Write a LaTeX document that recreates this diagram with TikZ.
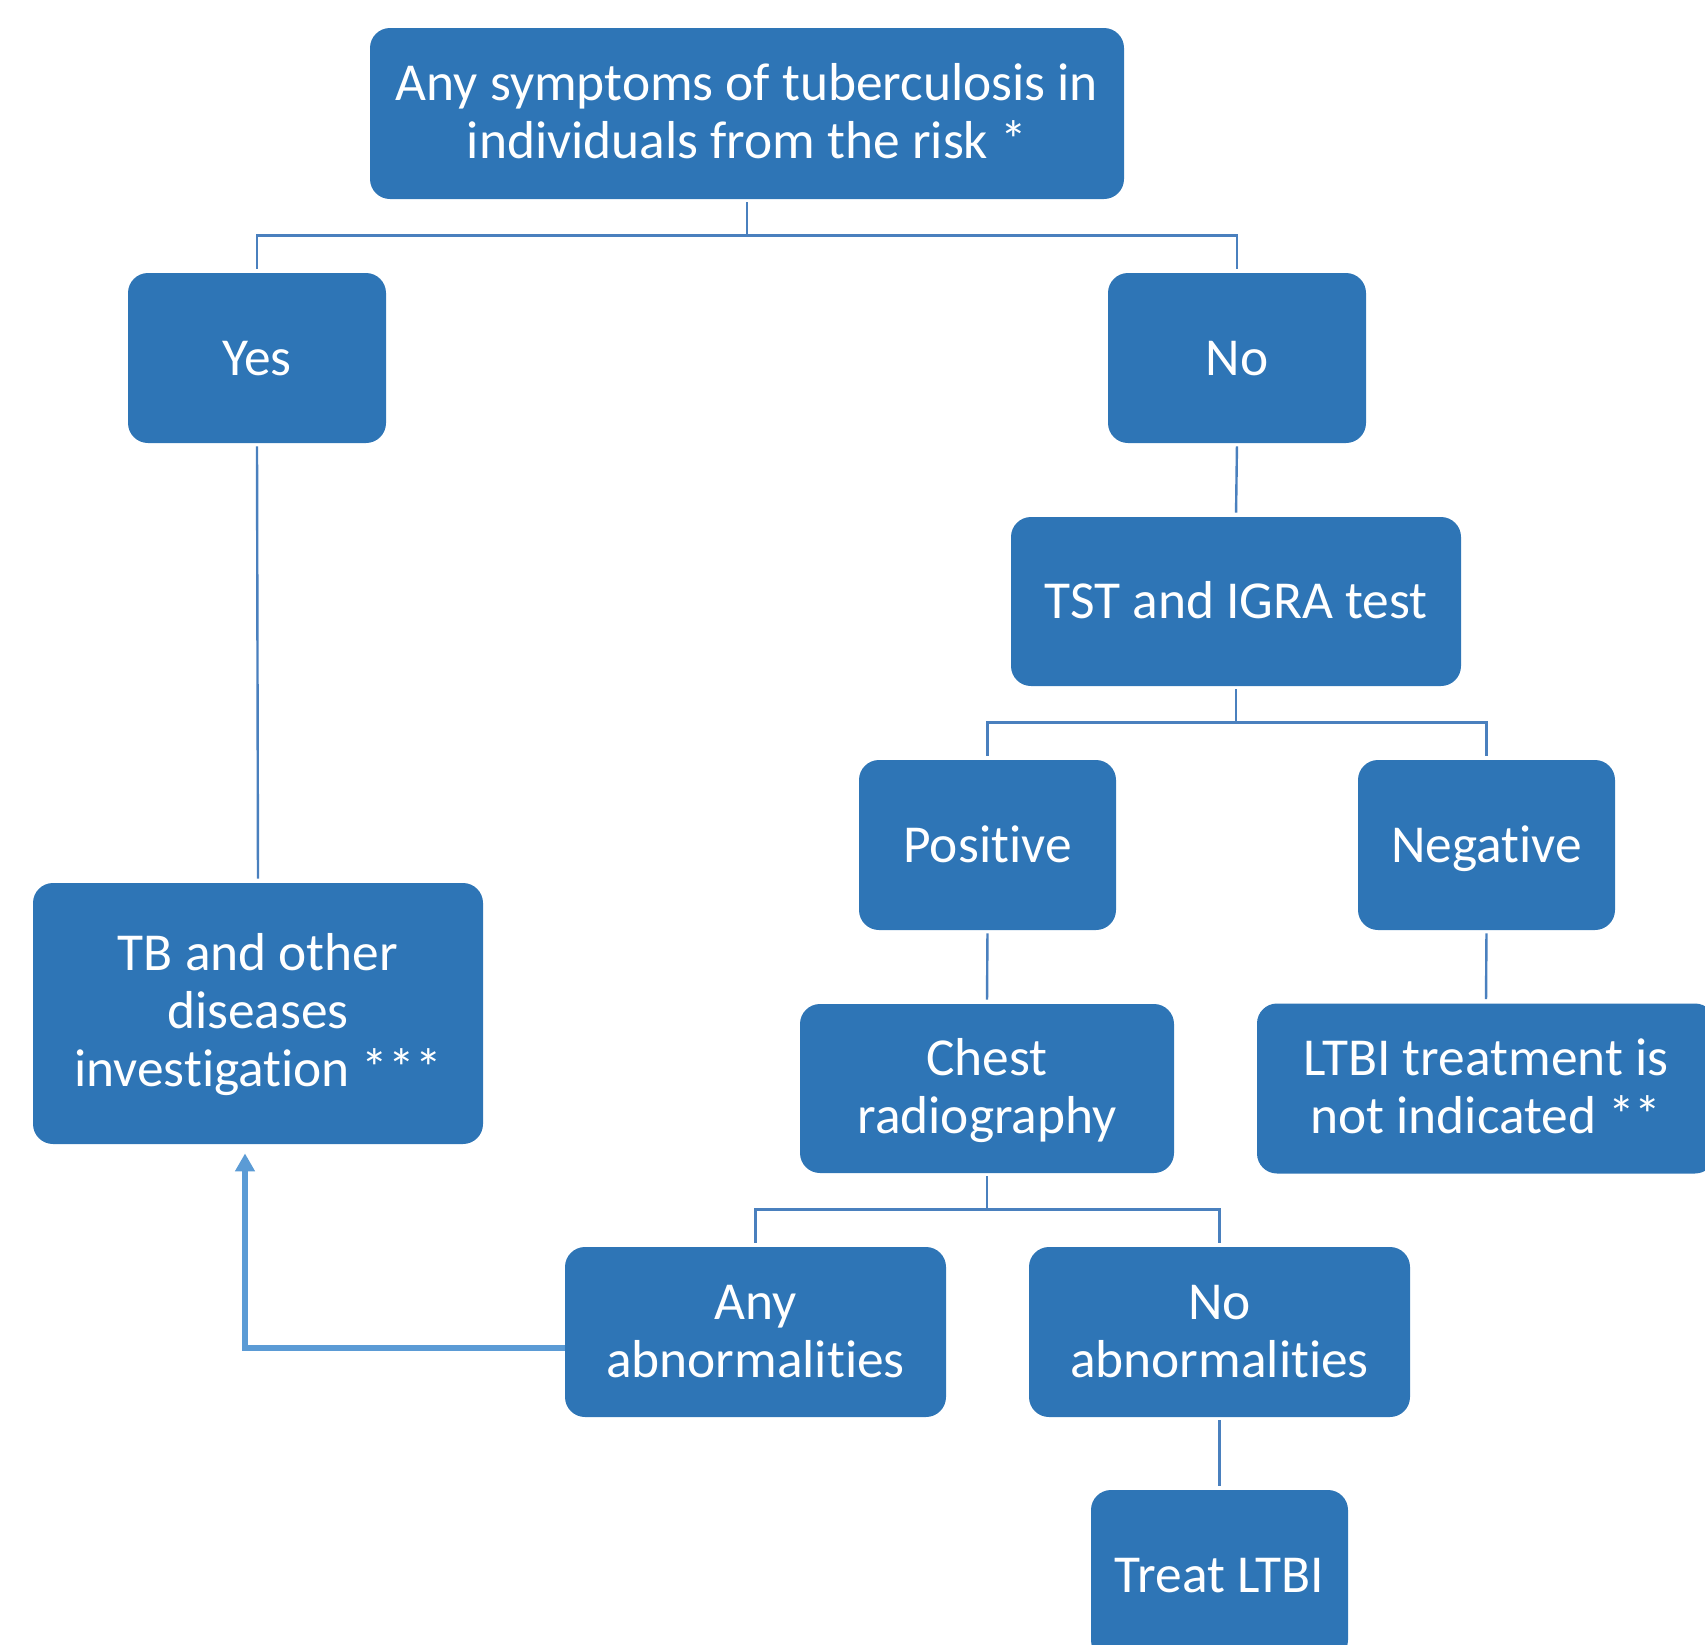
\documentclass[tikz,border=0pt]{standalone}
\usepackage{fontspec}
\setmainfont{Carlito}[RawFeature={-liga}]
\usetikzlibrary{arrows.meta,calc}
\definecolor{boxblue}{HTML}{2E75B6}
\definecolor{linec}{HTML}{4A80BE}
\definecolor{arrowc}{HTML}{5B9BD5}
\newcommand\boxlines[1]{\vtop{\halign{\hfil##\hfil\cr#1\crcr}}}
\tikzset{
  box/.style={draw=none, fill=boxblue, rounded corners=10pt, text=white,
    font=\fontsize{26.7}{29}\selectfont, inner sep=0pt},
  boxone/.style={box, text height=17pt, text depth=0pt},
  boxtwo/.style={box, text height=0pt, text depth=12.8pt},
  boxthree/.style={box, text height=0pt, text depth=43.2pt},
  conn/.style={draw=linec, line width=1.2pt, shorten <=1.5pt, shorten >=2pt},
  backarrow/.style={draw=arrowc, line width=3pt, -{Triangle[width=9.5pt,length=9pt]}}
}
\begin{document}
\begin{tikzpicture}[x=0.5pt,y=-0.5pt]
\useasboundingbox (0,0) rectangle (1705,1645);
\clip (0,0) rectangle (1705,1645);
\node[boxtwo, minimum width=377pt, minimum height=85.5pt] (top) at (747,113.5) {\boxlines{Any symptoms of tuberculosis in\cr individuals from the risk *}};
\node[boxone, minimum width=129pt, minimum height=85pt] (yes) at (257,358) {\boxlines{Yes}};
\node[boxone, minimum width=129pt, minimum height=85pt] (no) at (1237,358) {\boxlines{No}};
\node[boxone, minimum width=225pt, minimum height=84.5pt] (tst) at (1236,601.5) {\boxlines{TST and IGRA test}};
\node[boxone, minimum width=128.5pt, minimum height=85pt] (pos) at (987.5,845) {\boxlines{Positive}};
\node[boxone, minimum width=128.5pt, minimum height=85pt] (neg) at (1486.5,845) {\boxlines{Negative}};
\node[boxthree, minimum width=225pt, minimum height=130.5pt] (tb) at (258,1013.5) {\boxlines{TB and other\cr diseases\cr investigation ***}};
\node[boxtwo, minimum width=187pt, minimum height=84.5pt] (chest) at (987,1088.5) {\boxlines{Chest\cr radiography}};
\node[boxtwo, minimum width=229pt, minimum height=85pt] (ltbi) at (1486,1088.5) {\boxlines{LTBI treatment is\cr not indicated **}};
\node[boxtwo, minimum width=190.5pt, minimum height=85pt] (any) at (755.5,1332) {\boxlines{Any\cr abnormalities}};
\node[boxtwo, minimum width=190.5pt, minimum height=85pt] (noab) at (1219.5,1332) {\boxlines{No\cr abnormalities}};
\node[boxone, minimum width=128.5pt, minimum height=85pt] (treat) at (1219.5,1575) {\boxlines{Treat LTBI}};
% connectors
\draw[conn] (top.south) -- ++(0,36) -| (yes.north);
\draw[conn] (top.south) -- ++(0,36) -| (no.north);
\draw[conn] (yes.south) -- (tb.north);
\draw[conn] (no.south) -- (tst.north);
\draw[conn] (tst.south) -- ++(0,36) -| (pos.north);
\draw[conn] (tst.south) -- ++(0,36) -| (neg.north);
\draw[conn] (pos.south) -- (chest.north);
\draw[conn] (neg.south) -- (ltbi.north);
\draw[conn] (chest.south) -- ++(0,36) -| (any.north);
\draw[conn] (chest.south) -- ++(0,36) -| (noab.north);
\draw[conn] (noab.south) -- (treat.north);
\draw[backarrow] ($(any.west)+(0,16)$) -| ($(tb.south)+(-13,9)$);
\end{tikzpicture}
\end{document}
